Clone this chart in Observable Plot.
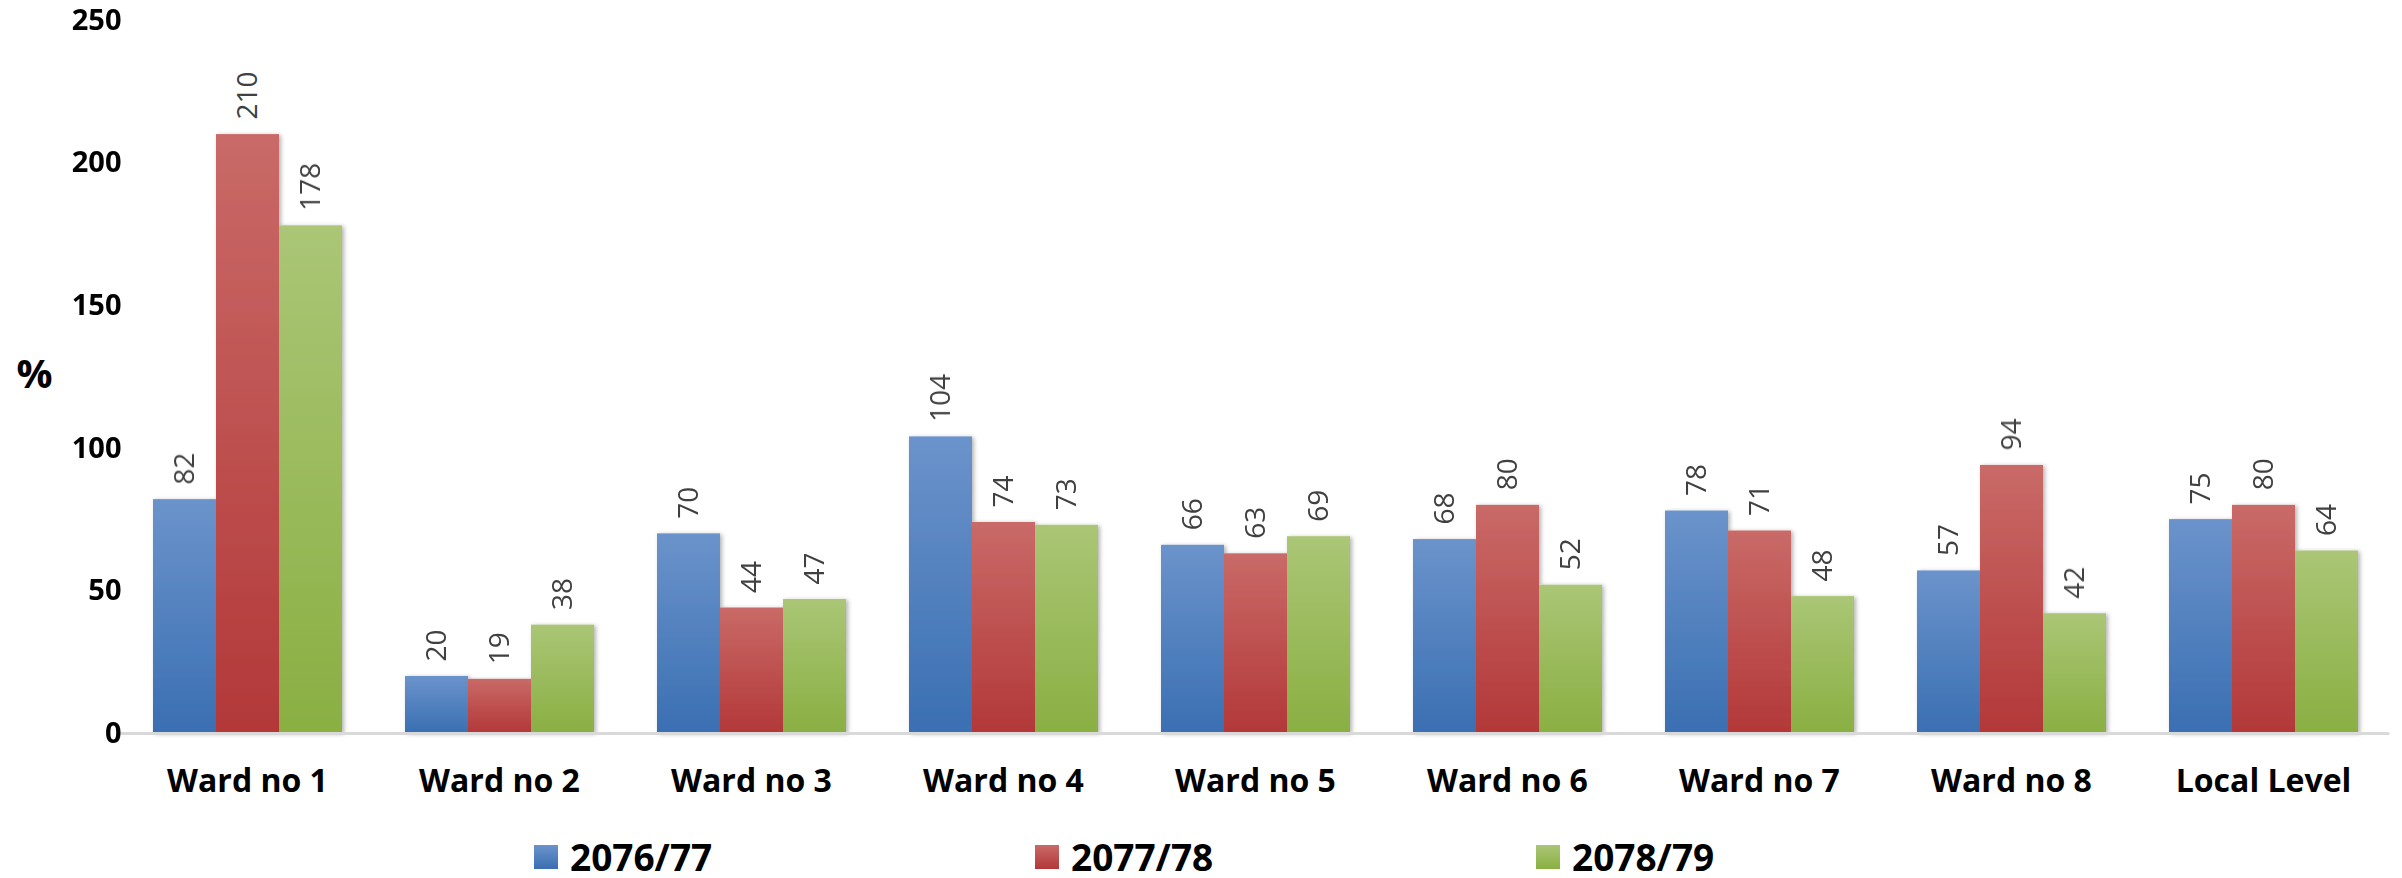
<!DOCTYPE html>
<html>
<head>
<meta charset="utf-8">
<script src="https://cdn.jsdelivr.net/npm/d3@7"></script>
<script src="https://cdn.jsdelivr.net/npm/@observablehq/plot@0.6"></script>
<style>
  html, body { margin: 0; padding: 0; background: #fff; }
  body { width: 2402px; height: 878px; overflow: hidden; font-family: "Open Sans", sans-serif; }
  #legend { position: relative; width: 2402px; height: 78px; }
  .item { position: absolute; top: 37px; height: 40px; display: flex; align-items: center; }
  .sw { width: 24px; height: 24px; margin-right: 12px; }
  .lbl { font-weight: 700; font-size: 37px; line-height: 40px; color: #000; }
</style>
</head>
<body>
<div id="chart"></div>
<div id="legend"></div>
<script>
// ---- data ----
const categories = ["Ward no 1", "Ward no 2", "Ward no 3", "Ward no 4", "Ward no 5", "Ward no 6", "Ward no 7", "Ward no 8", "Local Level"];
const series = ["2076/77", "2077/78", "2078/79"];
const values2076 = [82, 20, 70, 104, 66, 68, 78, 57, 75];
const values2077 = [210, 19, 44, 74, 63, 80, 71, 94, 80];
const values2078 = [178, 38, 47, 73, 69, 52, 48, 42, 64];
const yTicks = [0, 50, 100, 150, 200, 250];
const gradTop = ["#6b93cb", "#c96a68", "#aac676"];
const gradBottom = ["#3a6fb2", "#b33838", "#8aaf42"];
const legendLeft = [534, 1035, 1536];

const seriesValues = [values2076, values2077, values2078];
const data = categories.flatMap((c, i) =>
  series.map((s, j) => ({category: c, series: s, value: seriesValues[j][i]}))
);

const chart = Plot.plot({
  width: 2402,
  height: 800,
  marginLeft: 121,
  marginRight: 13,
  marginTop: 20,
  marginBottom: 67,
  style: {fontFamily: "Open Sans, sans-serif", background: "#fff", color: "#000", overflow: "visible"},
  fx: {domain: categories, paddingInner: 0.246, paddingOuter: 0.123, label: null},
  x: {domain: series, padding: 0, axis: null},
  y: {domain: [0, 250], label: null},
  color: {domain: series, range: series.map((s, i) => `url(#grad${i})`)},
  marks: [
    Plot.barY(data, {fx: "category", x: "series", y: "value", fill: "series"}),
    Plot.ruleY([0], {stroke: "#d9d9d9", strokeWidth: 3, insetLeft: -31.5, insetRight: -31.5}),
    Plot.text(data, {
      fx: "category", x: "series", y: "value", text: d => String(d.value),
      rotate: -90, textAnchor: "start", dy: -15, fill: "#404040", fontSize: 28
    }),
    Plot.axisY({ticks: yTicks, tickSize: 0, tickPadding: 31, fontSize: 29, fontWeight: "bold", label: null}),
    Plot.axisFx({anchor: "bottom", tickSize: 0, tickPadding: 36, fontSize: 32, fontWeight: "bold", label: null}),
    Plot.text(["%"], {facet: "super", frameAnchor: "left", textAnchor: "start", dx: -136, dy: -2, fontSize: 40, fontWeight: "bold", fill: "#000"})
  ]
});

// gradients & shadow
const svg = d3.select(chart);
const defs = svg.insert("defs", ":first-child");
series.forEach((s, i) => {
  const g = defs.append("linearGradient").attr("id", `grad${i}`).attr("x1", 0).attr("y1", 0).attr("x2", 0).attr("y2", 1);
  g.append("stop").attr("offset", "0%").attr("stop-color", gradTop[i]);
  g.append("stop").attr("offset", "100%").attr("stop-color", gradBottom[i]);
});
const f = defs.append("filter").attr("id", "shadow").attr("x", "-10%").attr("y", "-10%").attr("width", "130%").attr("height", "120%");
f.append("feDropShadow").attr("dx", 2).attr("dy", 1).attr("stdDeviation", 2).attr("flood-color", "#000").attr("flood-opacity", 0.3);
svg.selectAll('g[aria-label="bar"]').attr("filter", "url(#shadow)");

document.getElementById("chart").appendChild(chart);

// legend
const legend = d3.select("#legend");
series.forEach((s, i) => {
  const it = legend.append("div").attr("class", "item").style("left", legendLeft[i] + "px");
  it.append("div").attr("class", "sw").style("background", `linear-gradient(${gradTop[i]}, ${gradBottom[i]})`);
  it.append("div").attr("class", "lbl").text(s);
});
</script>
</body>
</html>
